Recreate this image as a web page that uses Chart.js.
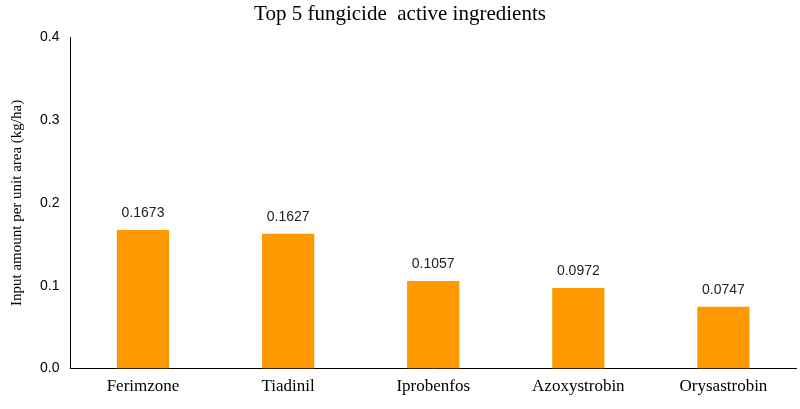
<!DOCTYPE html>
<html><head><meta charset="utf-8">
<script src="https://cdn.jsdelivr.net/npm/chart.js@4"></script>
<style>html,body{margin:0;padding:0;background:#fff}#w{width:800px;height:409px}</style>
</head><body><div id="w"><canvas id="c"></canvas></div>
<script>
const categories = ["Ferimzone","Tiadinil","Iprobenfos","Azoxystrobin","Orysastrobin"];
const values = [0.1673,0.1627,0.1057,0.0972,0.0747];
const yTicks = [0.0,0.1,0.2,0.3,0.4];

const labelPlugin = {
  id:'lbl',
  afterDatasetsDraw(chart){
    const ctx=chart.ctx;
    const meta=chart.getDatasetMeta(0);
    ctx.save();
    ctx.font='14px "Liberation Sans", Arial, sans-serif';
    ctx.fillStyle='#222';
    ctx.textAlign='center';
    ctx.textBaseline='bottom';
    meta.data.forEach((b,i)=>{ctx.fillText(values[i].toFixed(4), b.x, b.y-10);});
    ctx.restore();
  }
};

new Chart(document.getElementById('c'),{
  type:'bar',
  data:{labels:categories,datasets:[{data:values,backgroundColor:'#FF9900',barPercentage:0.36,categoryPercentage:1}]},
  options:{
    responsive:true,maintainAspectRatio:false,animation:false,
    layout:{padding:{left:4,right:4,top:0,bottom:4}},
    plugins:{legend:{display:false},tooltip:{enabled:false},
      title:{display:true,text:'Top 5 fungicide  active ingredients',color:'#000',
        font:{family:'"Liberation Serif", "Times New Roman", serif',size:21,weight:'normal'},padding:{top:2,bottom:10}}},
    scales:{
      x:{grid:{display:false,drawTicks:false},border:{color:'#000',width:1},
        ticks:{color:'#000',padding:8,font:{family:'"Liberation Serif", serif',size:17}}},
      y:{min:0,max:0.4,afterBuildTicks(a){a.ticks=yTicks.map(v=>({value:v}));},
        grid:{display:false,drawTicks:true,tickLength:5,tickColor:'#000'},border:{color:'#000',width:1},
        ticks:{color:'#000',padding:6,font:{family:'"Liberation Sans", Arial, sans-serif',size:14},callback:v=>v.toFixed(1)},
        title:{display:true,text:'Input amount per unit area (kg/ha)',color:'#000',
          font:{family:'"Liberation Serif", serif',size:15},padding:{bottom:8}}}
    }
  },
  plugins:[labelPlugin]
});
</script></body></html>
